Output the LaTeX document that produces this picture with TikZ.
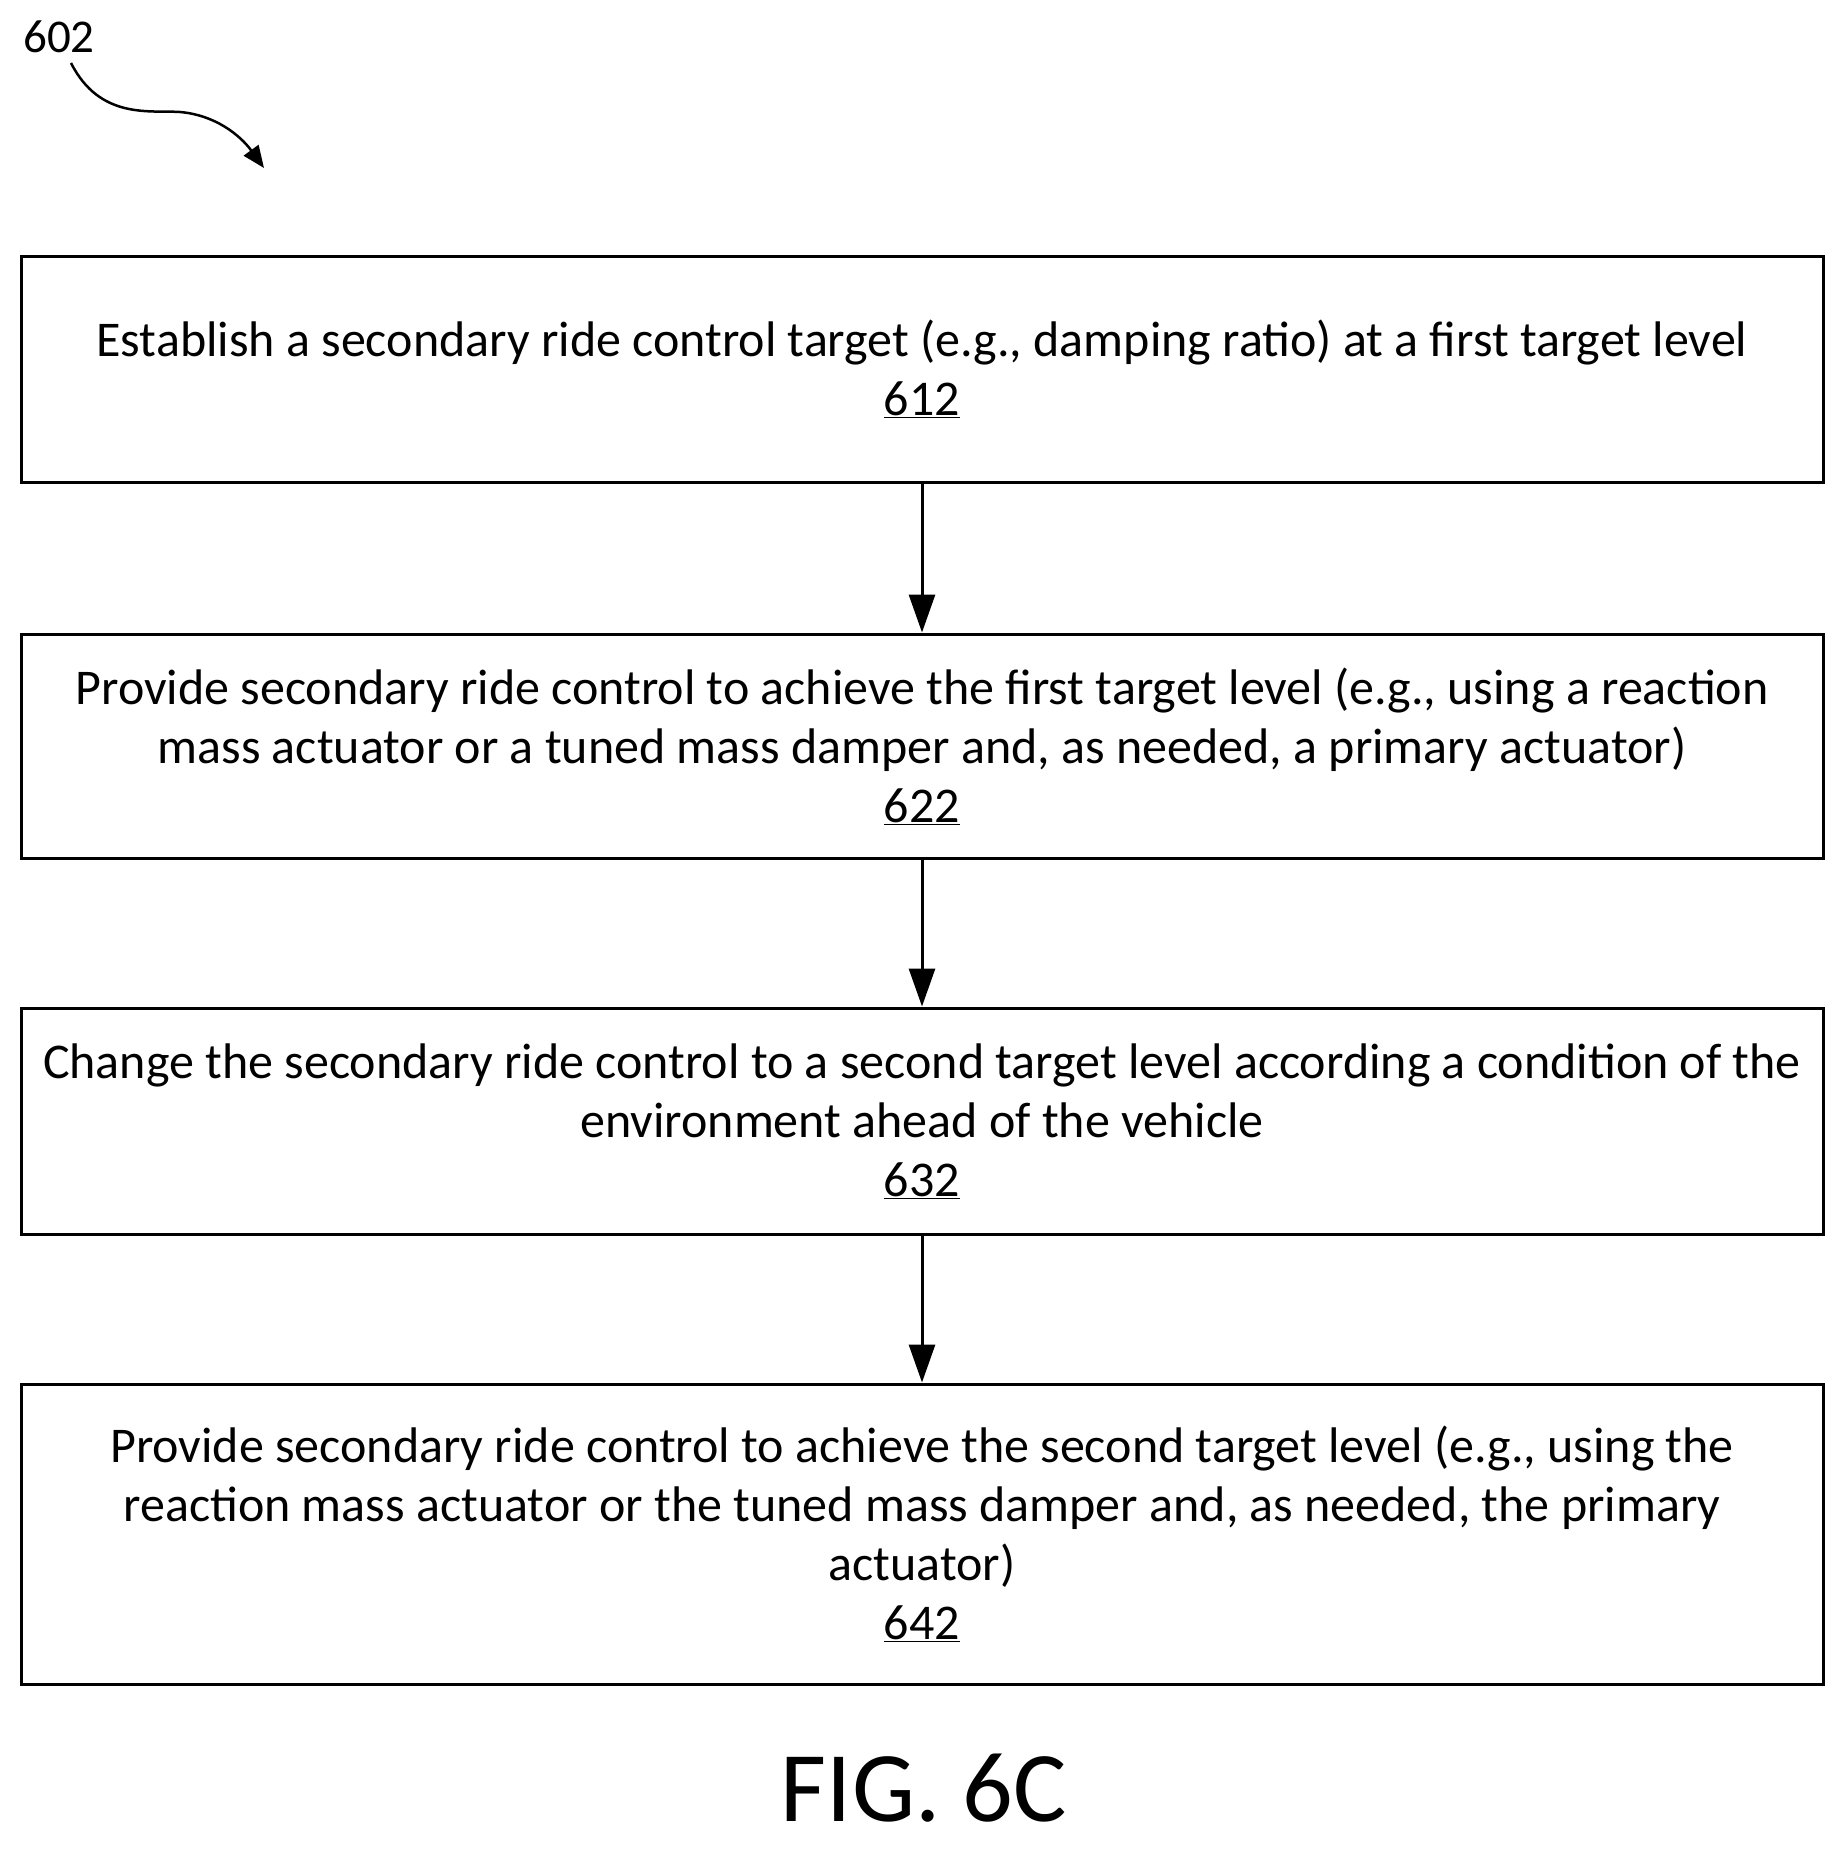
\documentclass[tikz,border=0pt]{standalone}
\usepackage{fontspec}
\setmainfont{Carlito}
\usetikzlibrary{arrows.meta}
\begin{document}
\begin{tikzpicture}[x=1pt,y=-1pt,
 box/.style={draw,line width=3pt,minimum width=1802pt,align=center,font=\fontsize{50}{59}\selectfont,inner sep=0pt},
 arr/.style={line width=3pt,-{Triangle[length=38pt,width=26pt]}}]
\useasboundingbox (0,0) rectangle (1844,1850);
\node[box,minimum height=226pt] (b1) at (922,369) {Establish a secondary ride control target (e.g., damping ratio) at a first target level\\\underline{612}};
\node[box,minimum height=224pt] (b2) at (922,746) {Provide secondary ride control to achieve the first target level (e.g., using a reaction\\mass actuator or a tuned mass damper and, as needed, a primary actuator)\\\underline{622}};
\node[box,minimum height=226pt] (b3) at (922,1121) {Change the secondary ride control to a second target level according a condition of the\\environment ahead of the vehicle\\\underline{632}};
\node[box,minimum height=300pt] (b4) at (922,1534) {Provide secondary ride control to achieve the second target level (e.g., using the\\reaction mass actuator or the tuned mass damper and, as needed, the primary\\actuator)\\\underline{642}};
\draw[arr] (b1) -- (b2);
\draw[arr] (b2) -- (b3);
\draw[arr] (b3) -- (b4);
\node[font=\fontsize{100}{100}\selectfont] (fig) at (924,1788) {FIG. 6C};
\node[font=\fontsize{47}{50}\selectfont] (lab) at (59,37) {602};
\coordinate (tip) at (264,168);
\draw[line width=2.5pt,-{Triangle[length=22pt,width=18pt]}] (71,63) .. controls (100,120) and (150,110) .. (180,112) .. controls (215,115) and (240,135) .. (tip);
\end{tikzpicture}
\end{document}
